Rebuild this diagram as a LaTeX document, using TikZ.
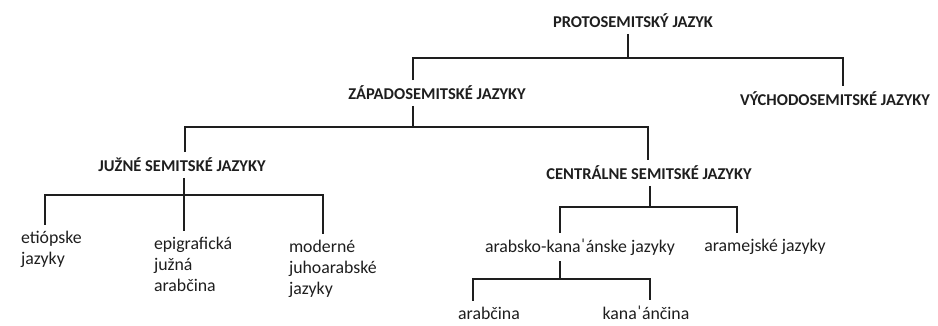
\documentclass[tikz,border=0pt]{standalone}
\usepackage{fontspec}
\setmainfont{Carlito}
\usepackage{tikz}
\definecolor{ink}{HTML}{1E1E1E}
\tikzset{
  branch/.style={line width=2.7pt, draw=ink},
  grp/.style={text=ink, font=\fontsize{16.5}{19}\selectfont\bfseries, inner sep=0pt, outer sep=6pt},
  lang/.style={text=ink, font=\fontsize{17.8}{21}\selectfont, inner sep=0pt, outer sep=6pt, align=left},
}

\begin{document}
\begin{tikzpicture}[x=1pt,y=-1pt]
  \useasboundingbox (0,0) rectangle (938,326);

  % language groups
  \node[grp] (proto)   at (633,21)  {PROTOSEMITSKÝ JAZYK};
  \node[grp] (zapad)   at (437,93)  {ZÁPADOSEMITSKÉ JAZYKY};
  \node[grp] (vychod)  at (835,99)  {VÝCHODOSEMITSKÉ JAZYKY};
  \node[grp] (juzne)   at (182,165) {JUŽNÉ SEMITSKÉ JAZYKY};
  \node[grp] (central) at (649,173) {CENTRÁLNE SEMITSKÉ JAZYKY};

  % languages
  \node[lang, anchor=north west] (etiop)   at (15,225)  {etiópske\\jazyky};
  \node[lang, anchor=north west] (epigraf) at (148,231) {epigrafická\\južná\\arabčina};
  \node[lang, anchor=north west] (modern)  at (283,234) {moderné\\juhoarabské\\jazyky};
  \node[lang] (arabsko)  at (580,247) {arabsko-kanaˈánske jazyky};
  \node[lang] (aramej)   at (765,247) {aramejské jazyky};
  \node[lang] (arabcina) at (489,313) {arabčina};
  \node[lang] (kanaan)   at (646,313) {kanaˈánčina};

  % bus points
  \coordinate (b1m) at (628,58);
  \coordinate (b1l) at (413,58);
  \coordinate (b1r) at (843,58);
  \coordinate (b2m) at (413,127);
  \coordinate (b2l) at (185,127);
  \coordinate (b2r) at (648,127);
  \coordinate (b3m) at (184,195);
  \coordinate (b3l) at (45,195);
  \coordinate (b3r) at (323,195);
  \coordinate (b4m) at (650,207);
  \coordinate (b4l) at (560,207);
  \coordinate (b4r) at (737,207);
  \coordinate (b5m) at (560,279);
  \coordinate (b5l) at (473,279);
  \coordinate (b5r) at (650,279);

  \draw[branch] (proto.south -| b1m) -- (b1m);
  \draw[branch] (zapad.north -| b1l) |- (b1r) -- (vychod.north -| b1r);

  \draw[branch] (zapad.south -| b2m) -- (b2m);
  \draw[branch] (juzne.north -| b2l) |- (b2r) -- (central.north -| b2r);

  \draw[branch] (juzne.south -| b3m) -- (b3m);
  \draw[branch] (etiop.north -| b3l) |- (b3r) -- (modern.north -| b3r);
  \draw[branch] (b3m) -- (epigraf.north -| b3m);

  \draw[branch] (central.south -| b4m) -- (b4m);
  \draw[branch] (arabsko.north -| b4l) |- (b4r) -- (aramej.north -| b4r);

  \draw[branch] (arabsko.south -| b5m) -- (b5m);
  \draw[branch] (arabcina.north -| b5l) |- (b5r) -- (kanaan.north -| b5r);
\end{tikzpicture}
\end{document}
